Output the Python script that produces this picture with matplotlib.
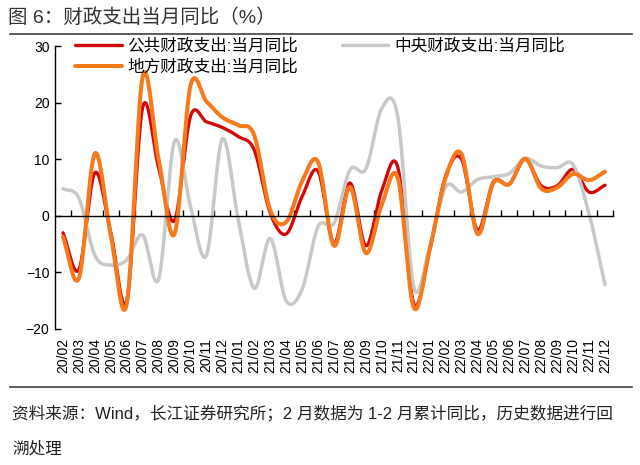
import numpy as np
import matplotlib
matplotlib.use("Agg")
import matplotlib.pyplot as plt
from matplotlib.lines import Line2D

plt.rcParams['font.family'] = ['Liberation Sans', 'Noto Sans CJK SC', 'DejaVu Sans']

months = ["20/02", "20/03", "20/04", "20/05", "20/06", "20/07", "20/08", "20/09", "20/10",
          "20/11", "20/12", "21/01", "21/02", "21/03", "21/04", "21/05", "21/06", "21/07",
          "21/08", "21/09", "21/10", "21/11", "21/12", "22/01", "22/02", "22/03", "22/04",
          "22/05", "22/06", "22/07", "22/08", "22/09", "22/10", "22/11", "22/12"]

public_exp = [-3.0, -9.5, 7.6, -3.0, -15.0, 19.2, 8.5, -0.8, 17.6, 16.6, 15.6, 14.0,
              11.6, 0.5, -3.2, 3.4, 7.9, -4.9, 5.8, -5.3, 4.5, 8.6, -15.5, -6.0,
              7.0, 10.0, -2.5, 6.0, 5.6, 10.0, 5.3, 5.3, 8.2, 4.2, 5.4]

central_exp = [4.8, 3.1, -7.0, -8.7, -7.8, -3.4, -11.2, 13.2, 1.6, -7.0, 13.6, -0.8,
               -12.8, -4.0, -15.0, -13.0, -1.9, -1.3, 8.1, 8.3, 19.0, 17.5, -12.5, -5.5,
               5.1, 4.2, 6.4, 6.9, 7.5, 10.1, 8.8, 8.5, 9.0, 0.3, -12.2]

local_exp = [-3.7, -11.0, 11.0, -3.5, -15.6, 24.6, 10.0, -3.2, 23.0, 20.2, 17.4, 16.0,
             14.2, 1.0, -1.1, 6.1, 9.5, -5.3, 5.1, -6.6, 2.0, 6.7, -16.2, -6.0,
             6.7, 10.9, -3.2, 5.8, 5.6, 10.1, 4.8, 5.0, 7.4, 6.3, 7.8]

labels = ["公共财政支出:当月同比", "中央财政支出:当月同比", "地方财政支出:当月同比"]
colors = ["#D00A0A", "#C8C8C8", "#F57A1E"]
widths = [2.4, 2.5, 2.9]


def smooth(y, n=20):
    y = np.asarray(y, dtype=float)
    x = np.arange(len(y), dtype=float)
    p = np.concatenate([[2 * y[0] - y[1]], y, [2 * y[-1] - y[-2]]])
    xs, ys = [], []
    for i in range(len(y) - 1):
        p0, p1, p2, p3 = p[i], p[i + 1], p[i + 2], p[i + 3]
        t = np.linspace(0, 1, n, endpoint=False)
        v = 0.5 * ((2 * p1) + (-p0 + p2) * t + (2 * p0 - 5 * p1 + 4 * p2 - p3) * t ** 2
                   + (-p0 + 3 * p1 - 3 * p2 + p3) * t ** 3)
        xs.append(x[i] + t)
        ys.append(v)
    xs.append([x[-1]])
    ys.append([y[-1]])
    return np.concatenate(xs), np.concatenate(ys)


W, H = 640, 465
fig = plt.figure(figsize=(W / 100, H / 100), dpi=100)
ax = fig.add_axes([55 / W, 1 - 329 / H, (613 - 55) / W, (329 - 46) / H])

handles = []
for data, c, lw, lab in zip([public_exp, central_exp, local_exp], colors, widths, labels):
    xs, ys = smooth(data)
    h, = ax.plot(xs, ys, color=c, lw=lw, label=lab, solid_capstyle='round')
    handles.append(h)

ax.set_xlim(-0.5, len(months) - 0.5)
ax.set_ylim(-20, 30)
ax.set_yticks([-20, -10, 0, 10, 20, 30])
ax.spines['top'].set_visible(False)
ax.spines['right'].set_visible(False)
ax.spines['bottom'].set_position(('data', 0))
ax.spines['left'].set_linewidth(1.0)
ax.spines['bottom'].set_linewidth(1.0)
ax.spines['left'].set_color('#000000')
ax.spines['bottom'].set_color('#000000')

ax.set_xticks(np.arange(len(months)))
ax.set_xticklabels(months, rotation=90, fontsize=10)
ax.set_xticks(np.arange(0.5, len(months), 1), minor=True)
ax.tick_params(axis='x', which='major', length=0, pad=88, colors='#000000')
ax.tick_params(axis='x', which='minor', direction='in', length=4, width=1)
ax.tick_params(axis='y', direction='in', length=4, width=1, labelsize=10, pad=4)

leg = fig.legend([handles[0], handles[2], handles[1]], [labels[0], labels[2], labels[1]],
                 ncol=2, loc='upper left', bbox_to_anchor=(75 / W, 1 - 38 / H),
                 frameon=False, fontsize=12, handlelength=2.8, handletextpad=0.35,
                 columnspacing=2.6, labelspacing=0.35, borderpad=0, borderaxespad=0)

fig.text(8 / W, 1 - 18 / H, "图 6：财政支出当月同比（%）", fontsize=14, color='#333333',
         ha='left', va='center')
fig.add_artist(Line2D([10 / W, 632 / W], [1 - 34 / H, 1 - 34 / H], color='#404040', lw=1.2,
                      transform=fig.transFigure))
fig.add_artist(Line2D([10 / W, 632 / W], [1 - 387 / H, 1 - 387 / H], color='#404040', lw=1.2,
                      transform=fig.transFigure))
fig.text(12 / W, 1 - 413 / H,
         "资料来源：Wind，长江证券研究所；2 月数据为 1-2 月累计同比，历史数据进行回",
         fontsize=12, color='#222222', ha='left', va='center')
fig.text(12 / W, 1 - 449 / H, "溯处理", fontsize=12, color='#222222', ha='left', va='center')

fig.savefig("out.png", dpi=100)
